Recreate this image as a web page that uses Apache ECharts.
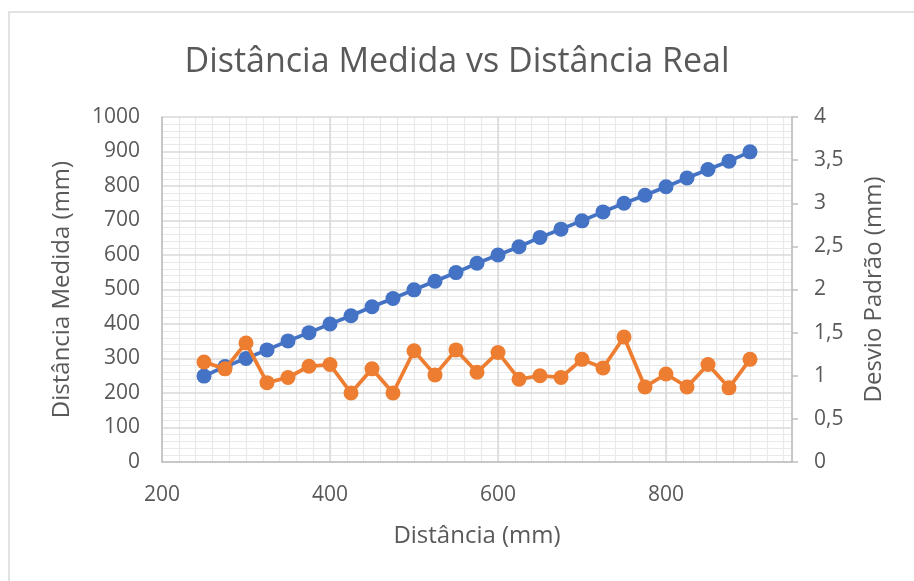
<!DOCTYPE html>
<html>
<head>
<meta charset="utf-8">
<script src="https://cdn.jsdelivr.net/npm/echarts@6/dist/echarts.min.js"></script>
<style>html,body{margin:0;padding:0;background:#fff;}#c{width:914px;height:581px;}</style>
</head>
<body>
<div id="c"></div>
<script>
const realDist = [250,275,300,325,350,375,400,425,450,475,500,525,550,575,600,625,650,675,700,725,750,775,800,825,850,875,900];
const measured = [249,277,300,325,351,375,400,424,450,474,499,524,549,576,600,624,651,675,699,725,750,773,798,823,848,872,899];
const stdDev = [1.16,1.08,1.38,0.92,0.98,1.11,1.13,0.80,1.08,0.80,1.29,1.01,1.30,1.04,1.27,0.96,1.00,0.98,1.19,1.09,1.45,0.87,1.02,0.87,1.13,0.86,1.19];
const titleText = 'Distância Medida vs Distância Real';
const xName = 'Distância (mm)';
const yLeftName = 'Distância Medida (mm)';
const yRightName = 'Desvio Padrão (mm)';

const FONT = 'Open Sans';
const TXT = '#595959';
const chart = echarts.init(document.getElementById('c'), null, {renderer: 'canvas'});
chart.setOption({
  animation: false,
  backgroundColor: '#fff',
  textStyle: {fontFamily: FONT},
  title: {
    text: titleText, left: 'center', top: 40,
    textStyle: {fontFamily: FONT, fontSize: 34, fontWeight: 'normal', color: TXT}
  },
  graphic: [{
    type: 'rect', silent: true, z: -10,
    shape: {x: 9, y: 12, width: 1000, height: 1000},
    style: {fill: 'none', stroke: '#d9d9d9', lineWidth: 1.5}
  }],
  grid: {left: 162, right: 122, top: 117, bottom: 119, containLabel: false},
  xAxis: [{
    type: 'value', min: 200, max: 950, interval: 200, z: 2,
    name: xName, nameLocation: 'middle', nameGap: 62,
    nameTextStyle: {fontFamily: FONT, fontSize: 24, color: TXT},
    axisLine: {show: true, lineStyle: {color: '#bfbfbf', width: 1.5}},
    axisTick: {show: false},
    axisLabel: {showMaxLabel: false, fontFamily: FONT, fontSize: 21, color: TXT, margin: 23,
      formatter: v => String(v)},
    splitLine: {show: true, lineStyle: {color: '#d9d9d9', width: 1.5}}
  }, {
    type: 'value', min: 200, max: 950, interval: 20, position: 'top', z: 0,
    axisLine: {show: false}, axisTick: {show: false}, axisLabel: {show: false},
    splitLine: {show: true, lineStyle: {color: '#e9e9e9', width: 1.2}}
  }],
  yAxis: [{
    type: 'value', min: 0, max: 1000, interval: 100, z: 2,
    name: yLeftName, nameLocation: 'middle', nameGap: 88, nameRotate: 90,
    nameTextStyle: {fontFamily: FONT, fontSize: 24, color: TXT},
    axisLine: {show: true, lineStyle: {color: '#bfbfbf', width: 1.5}},
    axisTick: {show: false},
    axisLabel: {fontFamily: FONT, fontSize: 21, color: TXT, margin: 22,
      formatter: v => String(v)},
    splitLine: {show: true, lineStyle: {color: '#d9d9d9', width: 1.5}},
    minorTick: {show: false, splitNumber: 5},
    minorSplitLine: {show: true, lineStyle: {color: '#e9e9e9', width: 1.2}}
  }, {
    type: 'value', min: 0, max: 4, interval: 0.5, position: 'right', z: 2,
    name: yRightName, nameLocation: 'middle', nameGap: 70, nameRotate: 90,
    nameTextStyle: {fontFamily: FONT, fontSize: 24, color: TXT},
    axisLine: {show: true, lineStyle: {color: '#bfbfbf', width: 1.5}},
    axisTick: {show: true, inside: false, length: 6, lineStyle: {color: '#bfbfbf', width: 1.5}},
    axisLabel: {fontFamily: FONT, fontSize: 21, color: TXT, margin: 22,
      formatter: v => String(v).replace('.', ',')},
    splitLine: {show: false}
  }],
  series: [{
    type: 'line', xAxisIndex: 0, yAxisIndex: 0,
    data: realDist.map((x, i) => [x, measured[i]]),
    symbol: 'circle', symbolSize: 15,
    lineStyle: {color: '#4472C4', width: 3.75},
    itemStyle: {color: '#4472C4'}, z: 3
  }, {
    type: 'line', xAxisIndex: 0, yAxisIndex: 1,
    data: realDist.map((x, i) => [x, stdDev[i]]),
    symbol: 'circle', symbolSize: 15,
    lineStyle: {color: '#ED7D31', width: 3.75},
    itemStyle: {color: '#ED7D31'}, z: 4
  }]
});
</script>
</body>
</html>
